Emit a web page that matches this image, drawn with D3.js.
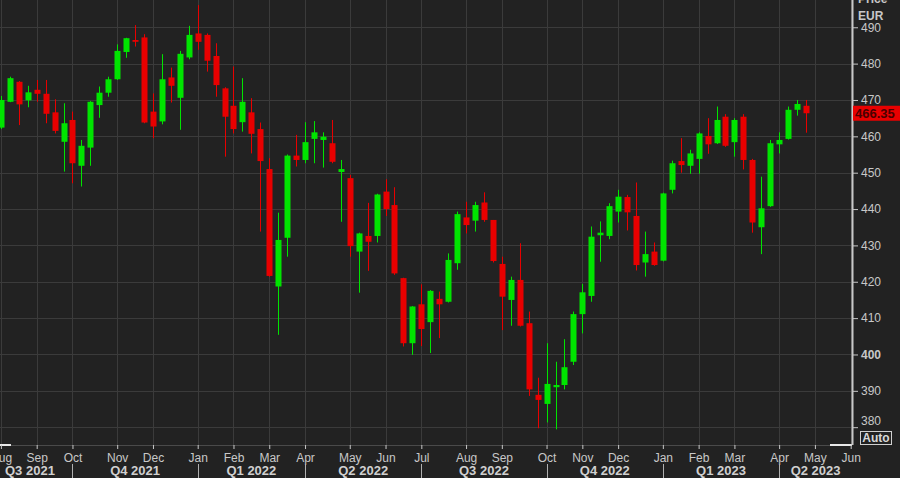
<!DOCTYPE html>
<html><head><meta charset="utf-8">
<script src="https://cdn.jsdelivr.net/npm/d3@7"></script>
<style>html,body{margin:0;padding:0;background:#222222;overflow:hidden}svg{display:block}</style>
</head><body><svg id="c" width="900" height="478"></svg>
<script>
// Weekly candles (week ending Friday), EUR
const dates=["2021-08-06","2021-08-13","2021-08-20","2021-08-27","2021-09-03","2021-09-10","2021-09-17","2021-09-24","2021-10-01","2021-10-08","2021-10-15","2021-10-22","2021-10-29","2021-11-05","2021-11-12","2021-11-19","2021-11-26","2021-12-03","2021-12-10","2021-12-17","2021-12-24","2021-12-31","2022-01-07","2022-01-14","2022-01-21","2022-01-28","2022-02-04","2022-02-11","2022-02-18","2022-02-25","2022-03-04","2022-03-11","2022-03-18","2022-03-25","2022-04-01","2022-04-08","2022-04-15","2022-04-22","2022-04-29","2022-05-06","2022-05-13","2022-05-20","2022-05-27","2022-06-03","2022-06-10","2022-06-17","2022-06-24","2022-07-01","2022-07-08","2022-07-15","2022-07-22","2022-07-29","2022-08-05","2022-08-12","2022-08-19","2022-08-26","2022-09-02","2022-09-09","2022-09-16","2022-09-23","2022-09-30","2022-10-07","2022-10-14","2022-10-21","2022-10-28","2022-11-04","2022-11-11","2022-11-18","2022-11-25","2022-12-02","2022-12-09","2022-12-16","2022-12-23","2022-12-30","2023-01-06","2023-01-13","2023-01-20","2023-01-27","2023-02-03","2023-02-10","2023-02-17","2023-02-24","2023-03-03","2023-03-10","2023-03-17","2023-03-24","2023-03-31","2023-04-07","2023-04-14","2023-04-21","2023-04-28"];
const openV=[462.4,469.5,475.0,469.9,472.8,471.7,466.6,458.5,464.5,451.9,456.9,468.6,472.0,475.7,483.2,486.5,487.2,466.8,464.1,476.2,470.6,481.7,488.3,487.9,482.1,473.2,468.4,463.9,466.6,462.0,451.0,418.7,432.1,454.7,453.5,459.3,459.0,458.1,450.2,448.5,428.3,432.6,432.6,444.8,441.1,421.0,403.1,413.8,408.9,415.3,414.5,425.1,437.7,436.8,441.8,437.0,424.9,415.0,420.5,408.6,388.9,386.4,391.0,391.6,398.0,411.1,416.1,432.8,432.6,439.3,443.3,438.1,425.3,428.3,425.8,445.3,453.2,451.9,453.8,460.1,458.1,465.4,458.4,465.4,453.5,435.0,440.8,457.8,459.3,467.3,468.4];
const highV=[471.1,476.4,475.2,473.9,475.5,475.5,470.2,469.1,466.8,459.0,469.7,473.7,476.4,485.3,487.1,490.6,488.1,471.8,482.6,478.9,483.5,490.4,496.1,488.3,485.6,473.5,479.2,476.0,470.5,463.8,454.0,439.0,455.0,460.4,463.9,464.2,461.1,464.5,453.5,449.4,433.5,441.7,444.2,448.2,446.0,421.1,413.3,419.3,417.7,417.3,427.8,439.3,442.0,442.0,444.6,437.0,426.9,421.4,430.6,411.8,393.6,403.1,398.0,404.2,411.8,419.4,435.2,436.6,441.6,445.3,443.9,447.3,433.8,430.8,444.5,453.3,459.5,456.3,461.1,465.0,468.2,466.1,465.0,466.1,453.8,448.9,459.0,461.1,468.2,470.0,470.0];
const lowV=[462.0,469.4,463.1,468.0,469.5,463.6,460.8,450.3,447.1,446.2,451.9,465.1,470.9,475.5,481.6,484.7,463.6,459.5,463.3,469.3,461.8,481.2,483.8,477.8,470.9,454.4,460.8,461.3,455.3,433.8,421.4,405.4,426.9,451.7,452.6,452.6,451.4,452.6,436.5,426.9,417.0,423.0,430.8,438.1,421.9,402.2,399.9,402.3,400.4,404.5,414.3,423.3,433.3,433.8,436.5,425.3,406.7,407.9,407.7,388.6,379.7,381.3,379.4,390.4,397.1,405.8,414.5,425.5,431.7,436.3,434.1,423.1,421.4,424.4,425.6,444.3,450.0,449.7,449.7,455.2,457.9,457.1,454.4,450.9,433.5,427.6,440.6,455.3,459.1,465.7,461.0];
const closeV=[470.0,476.0,468.8,472.1,471.7,466.2,461.5,463.6,452.6,457.4,469.5,472.0,475.7,483.5,487.0,486.0,463.8,462.7,475.7,473.9,482.7,487.9,486.0,480.8,474.1,465.4,462.0,469.5,460.7,453.2,421.6,431.5,454.7,453.5,458.4,461.1,459.9,453.0,451.0,429.8,433.3,431.0,444.0,440.0,422.3,403.1,413.2,407.0,417.5,413.8,426.0,438.6,435.6,441.1,437.0,425.7,415.9,420.5,407.9,390.4,387.5,391.9,391.6,396.5,411.1,417.1,432.4,433.5,440.8,443.4,439.1,424.6,427.6,424.6,444.3,452.6,452.1,455.3,460.8,457.8,464.5,457.4,464.5,453.5,436.3,440.2,458.1,459.0,467.3,468.9,466.35];
const futureDates=["2023-05-05","2023-05-12","2023-05-19","2023-05-26","2023-06-02"];
const yTicks=[380,390,400,410,420,430,440,450,460,470,480,490];
const lastPriceLabel="466.35";
const unitLabels=["Price","EUR"];

const W=900,H=478, plotR=852, plotB=445;
const FONT='"Liberation Sans", Arial, sans-serif';
const svg=d3.select("#c");
const parse=d3.timeParse("%Y-%m-%d");
const allDates=dates.concat(futureDates);
const x=d3.scalePoint().domain(allDates).range([0.9,850.7]);
const y=d3.scaleLinear().domain([375.1,497.5]).range([plotB,0]);
const data=dates.map((d,i)=>({d,o:openV[i],h:highV[i],l:lowV[i],c:closeV[i]}));

// month ticks = first week of each month
const monthTicks=allDates.filter((d,i)=>i===0||parse(d).getMonth()!==parse(allDates[i-1]).getMonth());

svg.append("rect").attr("width",W).attr("height",H).attr("fill","#222222");
svg.append("defs").append("clipPath").attr("id","pc").append("rect").attr("x",0).attr("y",0).attr("width",plotR).attr("height",plotB);

const grid=svg.append("g").attr("clip-path","url(#pc)");
grid.selectAll("line.h").data(yTicks).join("line").attr("class","h")
  .attr("x1",0).attr("x2",plotR).attr("y1",d=>Math.round(y(d))+0.5).attr("y2",d=>Math.round(y(d))+0.5)
  .attr("stroke","#3b3b3b").attr("stroke-width",1);
grid.selectAll("line.v").data(monthTicks).join("line").attr("class","v")
  .attr("y1",0).attr("y2",plotB).attr("x1",d=>Math.round(x(d))+0.5).attr("x2",d=>Math.round(x(d))+0.5)
  .attr("stroke","#3b3b3b").attr("stroke-width",1);

// candles
const up="#00e400", dn="#e80000";
const cg=svg.append("g").attr("clip-path","url(#pc)");
const candle=cg.selectAll("g.k").data(data).join("g").attr("class","k");
candle.append("line")
  .attr("x1",d=>Math.round(x(d.d))+0.5).attr("x2",d=>Math.round(x(d.d))+0.5)
  .attr("y1",d=>y(d.h)).attr("y2",d=>y(d.l))
  .attr("stroke",d=>d.c>=d.o?up:dn).attr("stroke-width",1);
candle.append("rect")
  .attr("x",d=>Math.round(x(d.d))-2.5).attr("width",6)
  .attr("y",d=>y(Math.max(d.o,d.c)))
  .attr("height",d=>Math.max(1.5,Math.abs(y(d.o)-y(d.c))))
  .attr("fill",d=>d.c>=d.o?up:dn);

// plot bottom border & scroll markers
svg.append("line").attr("x1",0).attr("x2",plotR).attr("y1",plotB+0.5).attr("y2",plotB+0.5).attr("stroke","#4a4a4a");
svg.append("line").attr("x1",0).attr("x2",11).attr("y1",plotB).attr("y2",plotB).attr("stroke","#e8e8e8").attr("stroke-width",2);
svg.append("line").attr("x1",830).attr("x2",plotR).attr("y1",plotB).attr("y2",plotB).attr("stroke","#e8e8e8").attr("stroke-width",2);

// y axis (right)
const ya=svg.append("g").attr("transform",`translate(${plotR},0)`)
  .call(d3.axisRight(y).tickValues(yTicks).tickSize(6).tickPadding(3).tickFormat(d3.format("d")));
ya.select(".domain").attr("stroke","#c8c8c8").attr("stroke-width",2).attr("d",`M0.5,0V${plotB}`);
ya.selectAll(".tick line").attr("stroke","#c8c8c8");
ya.selectAll(".tick text").attr("fill","#c8c8c8").attr("font-family",FONT).attr("font-size",12)
  .attr("font-weight",d=>d===400?"bold":"normal")
  .attr("dy",d=>d===380?"-0.2em":"0.32em");

// units (top one partially cut off, as in the reference)
svg.append("text").attr("x",858).attr("y",3).text(unitLabels[0]).attr("fill","#c8c8c8").attr("font-family",FONT).attr("font-size",12).attr("font-weight","bold");
svg.append("text").attr("x",858).attr("y",20).text(unitLabels[1]).attr("fill","#c8c8c8").attr("font-family",FONT).attr("font-size",12).attr("font-weight","bold");

// last price label
const ly=y(closeV[closeV.length-1]);
svg.append("rect").attr("x",853).attr("y",ly-7.5).attr("width",47).attr("height",15).attr("fill","#e80000");
svg.append("text").attr("x",855).attr("y",ly).attr("dy","0.36em").text(lastPriceLabel)
  .attr("fill","#4a0000").attr("font-family",FONT).attr("font-size",13).attr("font-weight","bold");

// Auto box
svg.append("rect").attr("x",860.5).attr("y",431.5).attr("width",31).attr("height",13).attr("fill","none").attr("stroke","#d0d0d0");
svg.append("text").attr("x",876).attr("y",442).attr("text-anchor","middle").text("Auto")
  .attr("fill","#d8d8d8").attr("font-family",FONT).attr("font-size",12).attr("font-weight","bold");

// x axis months
const xa=svg.append("g").attr("transform",`translate(0,${plotB})`)
  .call(d3.axisBottom(x).tickValues(monthTicks).tickSize(4).tickPadding(4).tickFormat(d=>d3.timeFormat("%b")(parse(d))));
xa.select(".domain").remove();
xa.selectAll(".tick line").attr("stroke","#c8c8c8");
xa.selectAll(".tick text").attr("fill","#c8c8c8").attr("font-family",FONT).attr("font-size",12);

// quarters
const qStarts=monthTicks.filter(d=>parse(d).getMonth()%3===0);
const qOf=d=>{const t=parse(d);return "Q"+(Math.floor(t.getMonth()/3)+1)+" "+t.getFullYear();};
const groups=[];
allDates.forEach(d=>{const q=qOf(d);if(!groups.length||groups[groups.length-1].q!==q)groups.push({q,first:d});});
groups.forEach((g,i)=>{
  const sx=x(g.first);
  const ex=i<groups.length-1?x(groups[i+1].first):plotR;
  g.partial=(i===0&&parse(g.first).getMonth()%3!==0);
  g.cx=(sx+ex)/2;
});
svg.selectAll("line.qs").data(qStarts).join("line").attr("class","qs")
  .attr("x1",d=>Math.round(x(d))+0.5).attr("x2",d=>Math.round(x(d))+0.5).attr("y1",464).attr("y2",478)
  .attr("stroke","#b0b0b0");
svg.selectAll("text.ql").data(groups).join("text").attr("class","ql")
  .attr("x",g=>g.partial?5:g.cx).attr("y",475)
  .attr("text-anchor",g=>g.partial?"start":"middle")
  .text(g=>g.q).attr("fill","#d0d0d0").attr("font-family",FONT).attr("font-size",13).attr("font-weight","bold");
</script></body></html>
